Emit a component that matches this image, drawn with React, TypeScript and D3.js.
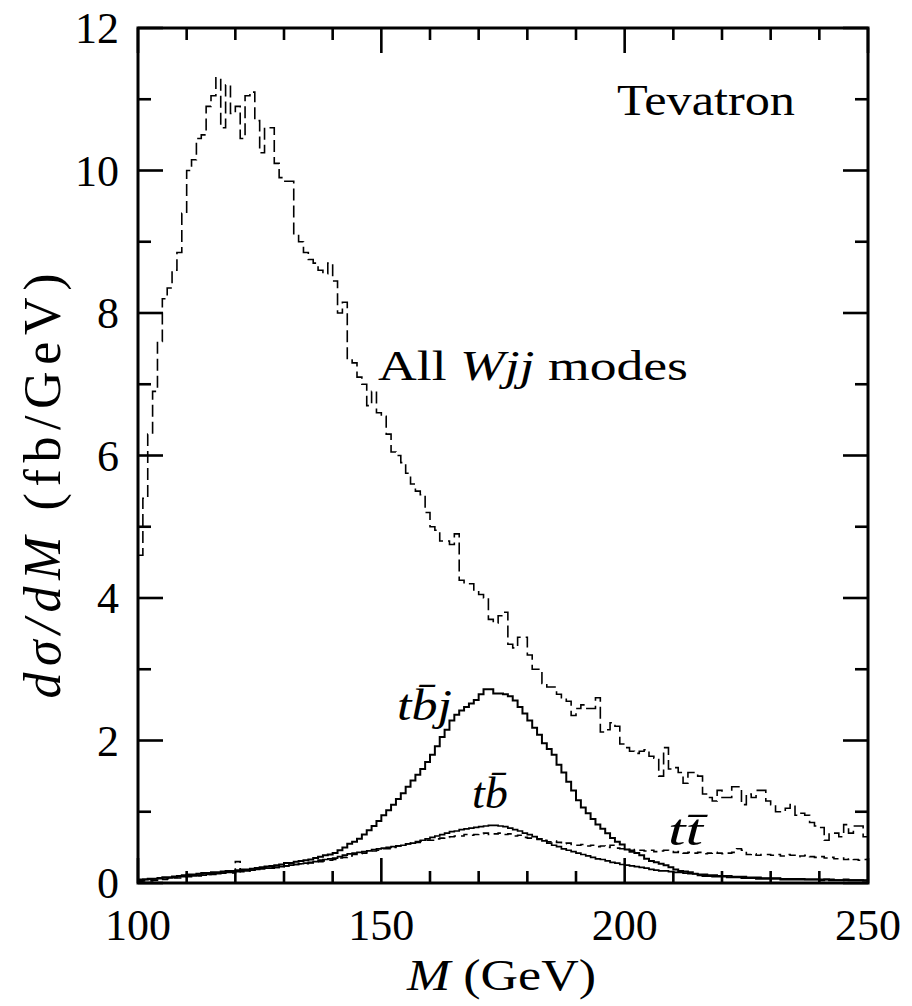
import React from 'react';
import * as d3 from 'd3';

// Histograms: 1 GeV bins starting at 100 GeV (values in fb/GeV)
const binStart = 100;
const binWidth = 1;

const wjjAll = [
  4.6, 5.4, 6.3, 6.9, 7.6, 8.2, 8.35, 8.6, 8.85, 9.4,
  10.0, 10.15, 10.45, 10.5, 10.9, 11.05, 11.3, 10.6, 11.2, 10.8,
  10.9, 10.45, 11.05, 11.1, 10.7, 10.25, 10.6, 10.6, 10.1, 9.9,
  9.85, 9.85, 9.1, 9.0, 8.85, 8.75, 8.7, 8.6, 8.55, 8.7,
  8.45, 8.0, 8.15, 7.35, 7.3, 7.1, 7.0, 6.7, 6.9, 6.6,
  6.55, 6.3, 6.05, 6.0, 5.9, 5.75, 5.6, 5.5, 5.45, 5.2,
  5.0, 4.95, 4.8, 4.8, 4.75, 4.9, 4.25, 4.2, 4.2, 4.1,
  4.05, 4.0, 3.7, 3.65, 3.75, 3.8, 3.35, 3.3, 3.45, 3.45,
  3.2, 3.0, 3.0, 2.8, 2.75, 2.75, 2.65, 2.6, 2.55, 2.35,
  2.45, 2.5, 2.45, 2.45, 2.6, 2.12, 2.15, 2.25, 2.2, 1.95,
  1.9, 1.85, 1.82, 1.85, 1.87, 1.78, 1.75, 1.5, 1.9, 1.6,
  1.62, 1.55, 1.4, 1.55, 1.55, 1.5, 1.25, 1.2, 1.15, 1.3,
  1.2, 1.2, 1.35, 1.35, 1.1, 1.25, 1.2, 1.3, 1.3, 1.15,
  1.1, 1.0, 1.0, 1.05, 1.1, 0.95, 0.98, 0.95, 0.85, 0.8,
  0.78, 0.6, 0.7, 0.7, 0.65, 0.82, 0.7, 0.8, 0.8, 0.65,
];

const tbjSignal = [
  0.05, 0.05, 0.06, 0.06, 0.07, 0.08, 0.08, 0.09, 0.10, 0.11,
  0.12, 0.12, 0.13, 0.14, 0.14, 0.15, 0.15, 0.16, 0.17, 0.17,
  0.18, 0.19, 0.19, 0.20, 0.21, 0.22, 0.23, 0.24, 0.25, 0.26,
  0.28, 0.28, 0.30, 0.31, 0.32, 0.33, 0.35, 0.37, 0.39, 0.40,
  0.42, 0.46, 0.50, 0.55, 0.58, 0.62, 0.68, 0.74, 0.80, 0.87,
  0.95, 1.02, 1.10, 1.18, 1.26, 1.35, 1.44, 1.52, 1.60, 1.70,
  1.80, 1.92, 2.05, 2.15, 2.28, 2.36, 2.42, 2.47, 2.52, 2.57,
  2.65, 2.72, 2.72, 2.66, 2.66, 2.65, 2.62, 2.56, 2.47, 2.38,
  2.28, 2.18, 2.08, 1.96, 1.88, 1.80, 1.66, 1.55, 1.42, 1.30,
  1.16, 1.06, 0.98, 0.90, 0.82, 0.76, 0.70, 0.63, 0.58, 0.54,
  0.47, 0.44, 0.42, 0.39, 0.34, 0.31, 0.29, 0.27, 0.25, 0.22,
  0.19, 0.17, 0.16, 0.15, 0.13, 0.11, 0.10, 0.10, 0.09, 0.09,
  0.09, 0.08, 0.08, 0.08, 0.07, 0.07, 0.07, 0.06, 0.06, 0.06,
  0.06, 0.06, 0.05, 0.05, 0.05, 0.05, 0.05, 0.05, 0.05, 0.05,
  0.04, 0.05, 0.04, 0.04, 0.04, 0.05, 0.04, 0.04, 0.04, 0.03,
];

const tbSignal = [
  0.04, 0.05, 0.05, 0.06, 0.06, 0.07, 0.07, 0.08, 0.09, 0.09,
  0.10, 0.10, 0.11, 0.11, 0.12, 0.13, 0.13, 0.14, 0.15, 0.15,
  0.16, 0.17, 0.17, 0.18, 0.19, 0.20, 0.21, 0.21, 0.22, 0.23,
  0.24, 0.25, 0.26, 0.27, 0.28, 0.29, 0.30, 0.32, 0.33, 0.34,
  0.35, 0.37, 0.39, 0.41, 0.42, 0.43, 0.44, 0.45, 0.47, 0.48,
  0.49, 0.50, 0.51, 0.52, 0.53, 0.55, 0.56, 0.58, 0.60, 0.62,
  0.64, 0.66, 0.68, 0.70, 0.72, 0.73, 0.75, 0.76, 0.77, 0.78,
  0.79, 0.80, 0.81, 0.81, 0.80, 0.79, 0.77, 0.75, 0.73, 0.70,
  0.68, 0.65, 0.62, 0.59, 0.56, 0.53, 0.51, 0.48, 0.46, 0.44,
  0.42, 0.40, 0.38, 0.36, 0.34, 0.33, 0.31, 0.29, 0.28, 0.26,
  0.25, 0.24, 0.23, 0.22, 0.21, 0.19, 0.18, 0.17, 0.17, 0.16,
  0.15, 0.15, 0.14, 0.13, 0.13, 0.12, 0.12, 0.11, 0.11, 0.10,
  0.10, 0.10, 0.09, 0.09, 0.09, 0.08, 0.08, 0.08, 0.07, 0.07,
  0.07, 0.07, 0.06, 0.06, 0.06, 0.06, 0.06, 0.05, 0.05, 0.05,
  0.05, 0.05, 0.05, 0.04, 0.04, 0.04, 0.04, 0.04, 0.04, 0.04,
];

const ttbarBkg = [
  0.02, 0.03, 0.03, 0.04, 0.05, 0.05, 0.06, 0.07, 0.07, 0.08,
  0.09, 0.10, 0.10, 0.11, 0.12, 0.12, 0.13, 0.14, 0.15, 0.14,
  0.30, 0.16, 0.17, 0.18, 0.19, 0.20, 0.21, 0.22, 0.22, 0.23,
  0.24, 0.25, 0.26, 0.27, 0.27, 0.28, 0.29, 0.30, 0.31, 0.32,
  0.33, 0.35, 0.36, 0.38, 0.40, 0.41, 0.42, 0.44, 0.45, 0.46,
  0.48, 0.48, 0.50, 0.52, 0.53, 0.55, 0.56, 0.57, 0.59, 0.60,
  0.60, 0.62, 0.63, 0.64, 0.65, 0.66, 0.66, 0.68, 0.67, 0.68,
  0.69, 0.70, 0.68, 0.69, 0.70, 0.68, 0.69, 0.66, 0.67, 0.64,
  0.63, 0.65, 0.61, 0.60, 0.58, 0.59, 0.57, 0.55, 0.56, 0.54,
  0.53, 0.54, 0.52, 0.53, 0.51, 0.52, 0.50, 0.53, 0.49, 0.48,
  0.47, 0.46, 0.47, 0.46, 0.45, 0.46, 0.44, 0.45, 0.46, 0.44,
  0.43, 0.44, 0.42, 0.43, 0.42, 0.43, 0.41, 0.42, 0.43, 0.42,
  0.41, 0.42, 0.43, 0.48, 0.46, 0.40, 0.41, 0.39, 0.40, 0.40,
  0.39, 0.40, 0.38, 0.40, 0.39, 0.37, 0.38, 0.39, 0.37, 0.36,
  0.37, 0.35, 0.36, 0.34, 0.35, 0.33, 0.34, 0.33, 0.32, 0.33,
];

const xDomain = [100, 250];
const yDomain = [0, 12];
const xMajorTicks = [100, 150, 200, 250];
const xMinorTicks = d3.range(110, 250, 10).filter((v) => v % 50 !== 0);
const yMajorTicks = [0, 2, 4, 6, 8, 10, 12];
const yMinorTicks = [1, 3, 5, 7, 9, 11];

const FONT = "'Liberation Serif', 'DejaVu Serif', serif";
const serif: React.CSSProperties = { fontFamily: FONT, fontWeight: 400 };

export default function App() {
  const W = 912;
  const H = 1006;
  const x = d3.scaleLinear().domain(xDomain).range([138, 868]);
  const y = d3.scaleLinear().domain(yDomain).range([883, 28]);

  const step = d3
    .line<[number, number]>()
    .x((d) => x(d[0]))
    .y((d) => y(d[1]))
    .curve(d3.curveStepAfter);

  const pts = (vals: number[]): [number, number][] => {
    const p: [number, number][] = vals.map((v, i) => [binStart + i * binWidth, v]);
    p.push([binStart + vals.length * binWidth, vals[vals.length - 1]]);
    return p;
  };

  const [x0, x1] = x.range();
  const [yb, yt] = y.range();
  const majorLen = 25;
  const minorLen = 12;
  const tickW = 2.6;

  return (
    <svg
      width={W}
      height={H}
      style={{ position: 'absolute', left: 0, top: 0, background: '#fff' }}
    >
      <rect x={0} y={0} width={W} height={H} fill="#fff" />
      <defs>
        <clipPath id="plotclip">
          <rect x={x0} y={yt} width={x1 - x0} height={yb - yt} />
        </clipPath>
      </defs>

      <g clipPath="url(#plotclip)" fill="none" stroke="#000">
        <path d={step(pts(wjjAll)) || ''} strokeWidth={1.6} strokeDasharray="12,5" />
        <path d={step(pts(ttbarBkg)) || ''} strokeWidth={1.6} strokeDasharray="8,5" />
        <path d={step(pts(tbSignal)) || ''} strokeWidth={1.7} />
        <path d={step(pts(tbjSignal)) || ''} strokeWidth={2} />
      </g>

      {/* ticks */}
      <g stroke="#000" strokeWidth={tickW}>
        {xMajorTicks.map((t) => (
          <g key={'xM' + t}>
            <line x1={x(t)} x2={x(t)} y1={yb} y2={yb - majorLen} />
            <line x1={x(t)} x2={x(t)} y1={yt} y2={yt + majorLen} />
          </g>
        ))}
        {xMinorTicks.map((t) => (
          <g key={'xm' + t}>
            <line x1={x(t)} x2={x(t)} y1={yb} y2={yb - minorLen} />
            <line x1={x(t)} x2={x(t)} y1={yt} y2={yt + minorLen} />
          </g>
        ))}
        {yMajorTicks.map((t) => (
          <g key={'yM' + t}>
            <line x1={x0} x2={x0 + majorLen} y1={y(t)} y2={y(t)} />
            <line x1={x1} x2={x1 - majorLen} y1={y(t)} y2={y(t)} />
          </g>
        ))}
        {yMinorTicks.map((t) => (
          <g key={'ym' + t}>
            <line x1={x0} x2={x0 + minorLen + 1} y1={y(t)} y2={y(t)} />
            <line x1={x1} x2={x1 - minorLen - 1} y1={y(t)} y2={y(t)} />
          </g>
        ))}
      </g>

      {/* frame */}
      <rect x={x0} y={yt} width={x1 - x0} height={yb - yt} fill="none" stroke="#000" strokeWidth={3} />

      {/* tick labels */}
      <g fontSize={44} fill="#000" style={serif}>
        {xMajorTicks.map((t) => (
          <text key={'xl' + t} x={x(t)} y={940} textAnchor="middle" style={serif}>
            {t}
          </text>
        ))}
        {yMajorTicks.map((t) => (
          <text key={'yl' + t} x={119} y={y(t) + 15} textAnchor="end" style={serif}>
            {t}
          </text>
        ))}
      </g>

      {/* axis titles */}
      <text x={407} y={990} fontSize={44} style={serif} textLength={189} lengthAdjust="spacingAndGlyphs">
        <tspan fontStyle="italic">M</tspan>
        <tspan> (GeV)</tspan>
      </text>
      <text
        transform="translate(60,486) rotate(-90)"
        textAnchor="middle"
        fontSize={52}
        style={serif}
        textLength={425}
        lengthAdjust="spacing"
      >
        <tspan fontStyle="italic">dσ/dM</tspan>
        <tspan> (fb/GeV)</tspan>
      </text>

      {/* annotations */}
      <text x={617} y={115} fontSize={44} style={serif} textLength={178} lengthAdjust="spacingAndGlyphs">
        Tevatron
      </text>
      <text x={378} y={380} fontSize={42} style={serif} textLength={310} lengthAdjust="spacingAndGlyphs">
        <tspan>All </tspan>
        <tspan fontStyle="italic">Wjj</tspan>
        <tspan> modes</tspan>
      </text>
      <text x={397} y={720} fontSize={44} fontStyle="italic" style={serif} textLength={55} lengthAdjust="spacingAndGlyphs">
        {'tb\u0304j'}
      </text>
      <text x={472} y={808} fontSize={44} fontStyle="italic" style={serif} textLength={36} lengthAdjust="spacingAndGlyphs">
        {'tb\u0304'}
      </text>
      <text x={668} y={845} fontSize={44} fontStyle="italic" style={serif} textLength={35} lengthAdjust="spacingAndGlyphs">
        {'tt\u0304'}
      </text>
    </svg>
  );
}
